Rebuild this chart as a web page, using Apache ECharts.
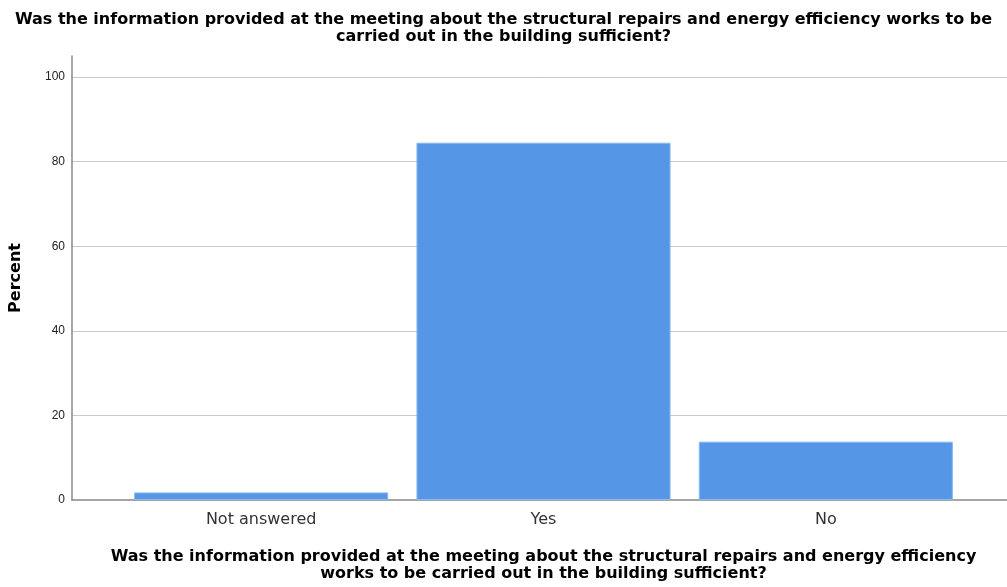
<!DOCTYPE html>
<html>
<head>
<meta charset="utf-8">
<script src="https://cdn.jsdelivr.net/npm/echarts@6/dist/echarts.min.js"></script>
<style>
  html, body { margin: 0; padding: 0; background: #fff; }
  #chart { width: 1007px; height: 587px; }
</style>
</head>
<body>
<div id="chart"></div>
<script>
const categories = ['Not answered', 'Yes', 'No']
const percents = [1.8, 84.5, 13.8]
const yTicks = [0, 20, 40, 60, 80, 100]

const titleText = 'Was the information provided at the meeting about the structural repairs and energy efficiency works to be\ncarried out in the building sufficient?'
const xName = 'Was the information provided at the meeting about the structural repairs and energy efficiency\nworks to be carried out in the building sufficient?'

const font = 'DejaVu Sans, sans-serif'
const numFont = 'Liberation Sans, Arial, sans-serif'
const myChart = echarts.init(document.getElementById('chart'))

const option = {
  backgroundColor: '#fff',
  animation: false,
  title: {
    text: titleText,
    left: 'center',
    top: 6,
    textStyle: { fontFamily: font, fontSize: 16, fontWeight: 'bold', color: '#000', lineHeight: 17 }
  },
  grid: [
    // frame grid: axis lines, gridlines, y labels
    { left: 72, right: 0, top: 56, bottom: 87 },
    // bar grid: category bands with padding at both ends
    { left: 120, right: 40, top: 56, bottom: 87 }
  ],
  xAxis: [{
    gridIndex: 0,
    type: 'value',
    min: 0,
    max: 1,
    axisLine: { show: true, onZero: false, lineStyle: { color: '#888', width: 1.5 } },
    axisTick: { show: false },
    axisLabel: { show: false },
    splitLine: { show: false }
  }, {
    gridIndex: 1,
    type: 'category',
    data: categories,
    axisLine: { show: false },
    axisTick: { show: false },
    axisLabel: { fontFamily: font, fontSize: 16, color: '#333', margin: 12 },
    name: xName,
    nameLocation: 'middle',
    nameGap: 48,
    nameTextStyle: { fontFamily: font, fontSize: 16, fontWeight: 'bold', color: '#000', lineHeight: 17 }
  }],
  yAxis: [{
    gridIndex: 0,
    type: 'value',
    min: 0,
    max: 105,
    interval: 20,
    name: 'Percent',
    nameLocation: 'middle',
    nameGap: 48,
    nameTextStyle: { fontFamily: font, fontSize: 16, fontWeight: 'bold', color: '#000' },
    axisLine: { show: true, lineStyle: { color: '#888', width: 1.5 } },
    axisTick: { show: false },
    axisLabel: {
      fontFamily: numFont, fontSize: 12, color: '#222', margin: 7,
      showMaxLabel: false,
      formatter: (v) => yTicks.includes(v) ? String(v) : ''
    },
    splitLine: { show: true, showMinLine: false, showMaxLine: false, lineStyle: { color: '#c8c8c8', width: 1 } }
  }, {
    gridIndex: 1,
    type: 'value',
    min: 0,
    max: 105,
    show: false
  }],
  series: [{
    type: 'bar',
    xAxisIndex: 1,
    yAxisIndex: 1,
    data: percents,
    barCategoryGap: '10%',
    itemStyle: { color: '#5596E6', borderColor: '#8cb8ee', borderWidth: 1 }
  }]
}

myChart.setOption(option)
window.addEventListener('resize', () => { myChart?.resize() })
</script>
</body>
</html>
